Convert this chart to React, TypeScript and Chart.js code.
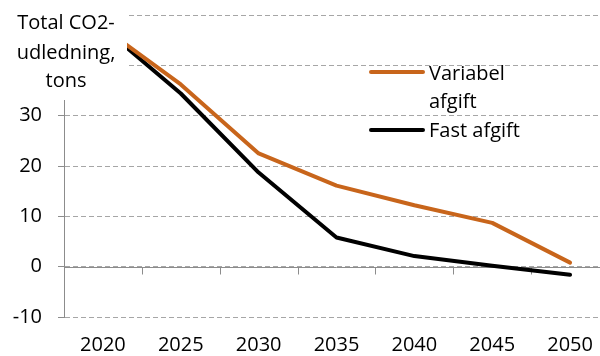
import React, { useEffect, useRef } from "react";
import { Chart, registerables } from "chart.js";

Chart.register(...registerables);

const years = ["2020", "2025", "2030", "2035", "2040", "2045", "2050"];
const variabelAfgift = [47.5, 36.2, 22.5, 16.1, 12.2, 8.7, 0.8];
const fastAfgift = [47.5, 34.4, 18.7, 5.8, 2.1, 0.2, -1.6];
const seriesNames = ["Variabel afgift", "Fast afgift"];
const legendLines = [["Variabel", "afgift"], ["Fast afgift"]];
const titleLines = ["Total CO2-", "udledning,", "tons"];
const shownYTicks = [-10, 0, 10, 20, 30];

const FONT = "'Open Sans', Lato, sans-serif";
const FS = 20;
const ORANGE = "#C8651B";
const BLACK = "#000000";
const AXIS = "#8c8c8c";
const GRID = "#a6a6a6";

const overlayPlugin = {
  id: "overlay",
  beforeDatasetsDraw(chart: any) {
    const ctx = chart.ctx;
    const { left, right } = chart.chartArea;
    const ys = chart.scales.y;
    const xs = chart.scales.x;
    const y0 = Math.round(ys.getPixelForValue(0)) + 0.5;
    ctx.save();
    ctx.strokeStyle = AXIS;
    ctx.lineWidth = 1;
    ctx.setLineDash([]);
    ctx.beginPath();
    ctx.moveTo(left, y0);
    ctx.lineTo(right, y0);
    for (let i = 1; i < years.length; i++) {
      const x = Math.round((xs.getPixelForValue(i - 1) + xs.getPixelForValue(i)) / 2) + 0.5;
      ctx.moveTo(x, y0);
      ctx.lineTo(x, y0 + 7);
    }
    ctx.stroke();
    ctx.restore();
  },
  afterDraw(chart: any) {
    const ctx = chart.ctx;
    ctx.save();
    ctx.fillStyle = "#ffffff";
    ctx.fillRect(0, 0, 127, 100);
    ctx.fillStyle = "#000";
    ctx.font = `${FS}px ${FONT}`;
    ctx.textAlign = "center";
    ctx.textBaseline = "alphabetic";
    const tb = [29, 59, 87];
    titleLines.forEach((t, i) => ctx.fillText(t, 66, tb[i]));

    const colors = [ORANGE, BLACK];
    const lineY = [72, 130];
    const baselines = [[80, 108], [137]];
    ctx.textAlign = "left";
    legendLines.forEach((lines, i) => {
      ctx.strokeStyle = colors[i];
      ctx.lineWidth = 4;
      ctx.lineCap = "round";
      ctx.beginPath();
      ctx.moveTo(371, lineY[i]);
      ctx.lineTo(423, lineY[i]);
      ctx.stroke();
      ctx.fillStyle = "#000";
      lines.forEach((t, j) => ctx.fillText(t, 429, baselines[i][j]));
    });
    ctx.restore();
  },
};

export default function App() {
  const ref = useRef<HTMLCanvasElement | null>(null);
  useEffect(() => {
    document.body.style.margin = "0";
    document.body.style.overflow = "hidden";
    const canvas = ref.current!;
    const chart = new Chart(canvas, {
      type: "line",
      data: {
        labels: years,
        datasets: [
          {
            label: seriesNames[0],
            data: variabelAfgift,
            borderColor: ORANGE,
            backgroundColor: ORANGE,
            borderWidth: 4,
            pointRadius: 0,
            tension: 0,
            borderJoinStyle: "round",
            borderCapStyle: "round",
          },
          {
            label: seriesNames[1],
            data: fastAfgift,
            borderColor: BLACK,
            backgroundColor: BLACK,
            borderWidth: 4,
            pointRadius: 0,
            tension: 0,
            borderJoinStyle: "round",
            borderCapStyle: "round",
          },
        ],
      },
      options: {
        animation: false,
        responsive: false,
        maintainAspectRatio: false,
        layout: { padding: { top: 15, right: 3, left: 0, bottom: 0 } },
        plugins: {
          legend: { display: false },
          tooltip: { enabled: false },
          title: { display: false },
        },
        scales: {
          x: {
            type: "category",
            offset: true,
            grid: { display: false, drawTicks: false },
            border: { display: false },
            ticks: {
              color: "#000",
              font: { family: FONT, size: FS },
              padding: 16,
              maxRotation: 0,
              autoSkip: false,
            },
            afterFit: (s: any) => {
              s.height = 39;
              s.paddingLeft = 0;
              s.paddingRight = 0;
            },
          },
          y: {
            min: -10,
            max: 50,
            ticks: {
              stepSize: 10,
              color: "#000",
              font: { family: FONT, size: FS },
              padding: 16,
              callback: (v: any) => (shownYTicks.includes(Number(v)) ? String(v) : ""),
            },
            grid: {
              color: GRID,
              lineWidth: 1,
              tickLength: 6,
              tickColor: AXIS,
              tickBorderDash: [],
            },
            border: { display: true, color: AXIS, dash: [5, 3] },
            afterFit: (s: any) => {
              s.width = 64;
              s.paddingTop = 0;
              s.paddingBottom = 0;
            },
          },
        },
      },
      plugins: [overlayPlugin],
    } as any);
    return () => chart.destroy();
  }, []);
  return (
    <div style={{ position: "absolute", left: 0, top: 0, width: 600, height: 356, overflow: "hidden" }}>
      <canvas ref={ref} width={612} height={356} style={{ width: 612, height: 356, display: "block" }} />
    </div>
  );
}
